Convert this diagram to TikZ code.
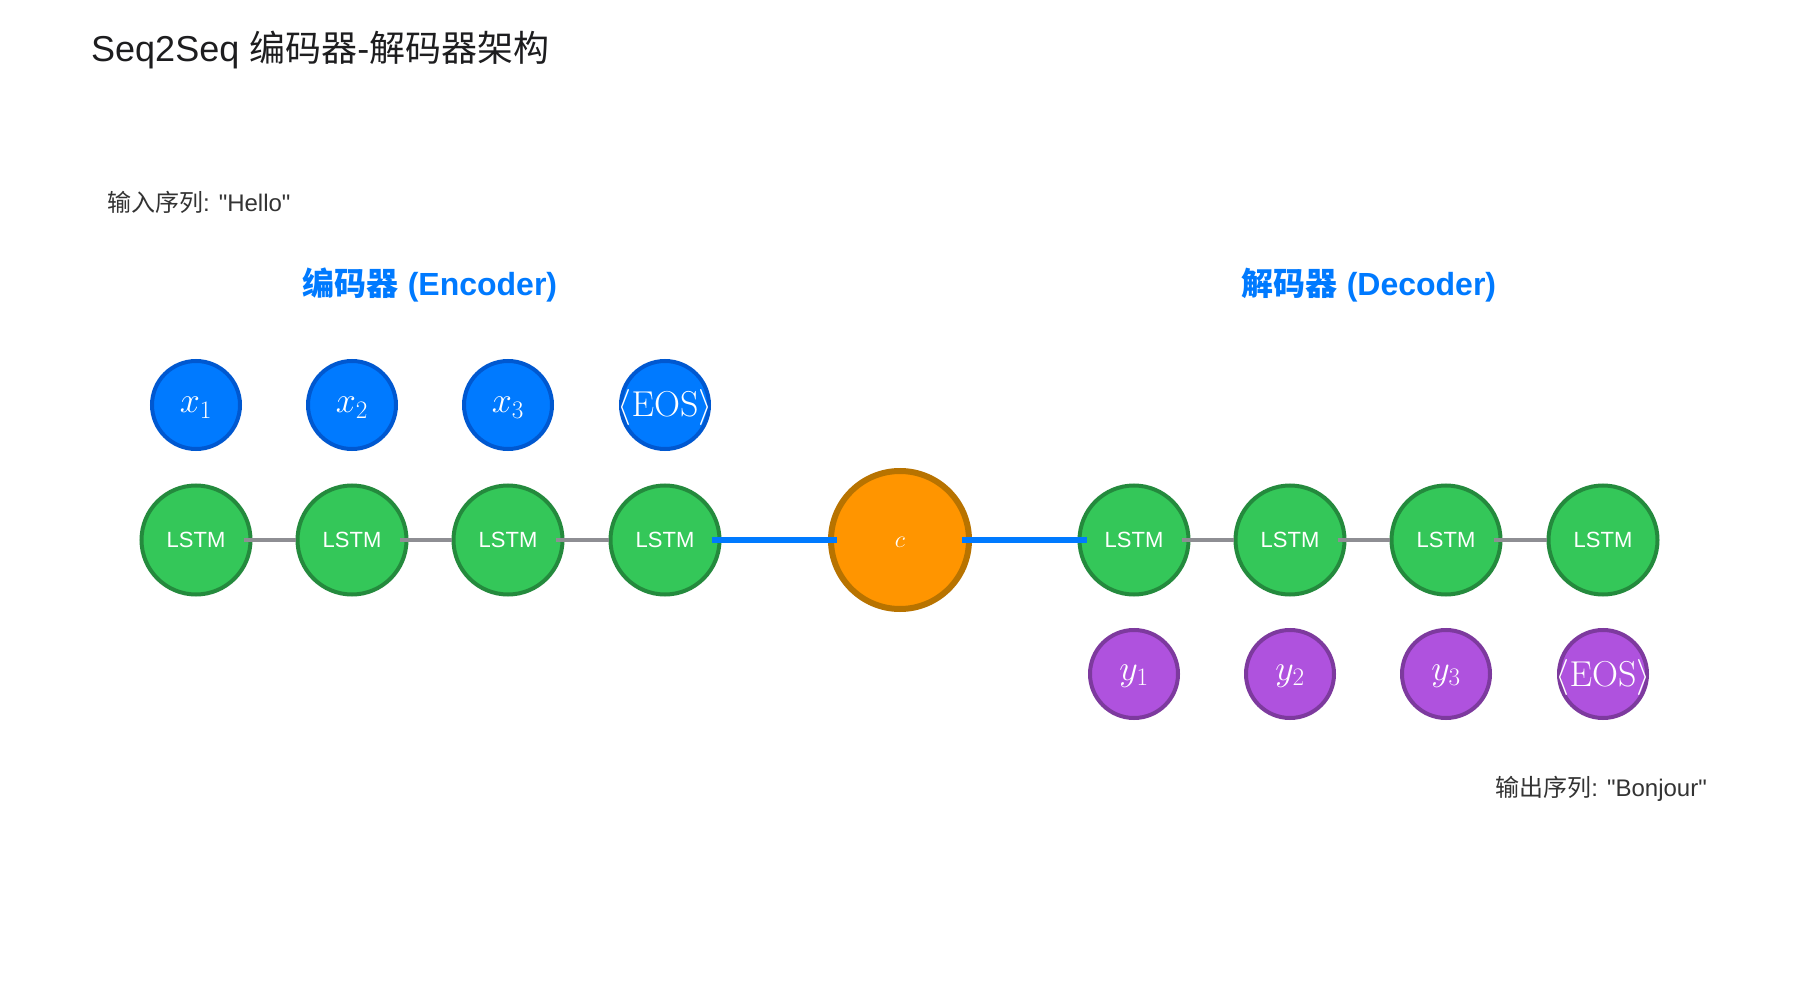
\documentclass[tikz,border=0pt]{standalone}
\usepackage{fix-cm}
\usepackage[no-math]{fontspec}
\setmainfont{Liberation Sans}
\newfontfamily\lsplain{Liberation Sans}
\newfontfamily\cjk{Noto Sans CJK SC}
\definecolor{lstmfill}{HTML}{34C759}
\definecolor{lstmdraw}{HTML}{248A3D}
\definecolor{infill}{HTML}{007AFF}
\definecolor{indraw}{HTML}{0058D0}
\definecolor{cfill}{HTML}{FF9500}
\definecolor{cdraw}{HTML}{B87300}
\definecolor{outfill}{HTML}{AF52DE}
\definecolor{outdraw}{HTML}{7D3A9E}
\definecolor{linkgray}{HTML}{8E8E93}
\definecolor{titlecol}{HTML}{1D1D1F}
\definecolor{labelcol}{HTML}{333333}
\newcommand{\dq}{{\lsplain"}}
\newcommand{\ml}[2]{\makebox[0pt]{\raisebox{#1}[0pt][0pt]{$#2$}}}
\begin{document}
\begin{tikzpicture}[x=1pt,y=-1pt,
  lstm/.style={circle,fill=lstmfill,draw=lstmdraw,line width=4pt,minimum size=109pt,inner sep=0pt,text=white,font=\fontsize{22}{26}\selectfont},
  tok/.style={circle,draw=indraw,fill=infill,line width=4pt,minimum size=88pt,inner sep=0pt,text=white,font=\fontsize{36}{42}\selectfont},
  outtok/.style={tok,draw=outdraw,fill=outfill},
  ctx/.style={circle,fill=cfill,draw=cdraw,line width=6pt,minimum size=138pt,inner sep=0pt,text=white,font=\fontsize{24}{28}\selectfont},
  glink/.style={draw=linkgray,line width=4pt},
  blink/.style={draw=infill,line width=6pt},
  head/.style={text=infill,font=\fontsize{32}{38}\selectfont\bfseries},
  note/.style={text=labelcol,font=\fontsize{24}{28}\selectfont}
]
\useasboundingbox[fill=white] (0,0) rectangle (1800,1000);

\node[anchor=west,text=titlecol,font=\fontsize{36}{42}\selectfont,inner sep=0pt] (title) at (91,50) {Seq2Seq {\cjk 编码器}-{\cjk 解码器架构}};
\node[note,anchor=west,inner sep=0pt] (inseq) at (107,202) {{\cjk 输入序列}: \dq Hello\dq};
\node[note,anchor=east,inner sep=0pt] (outseq) at (1707,789) {{\cjk 输出序列}: \dq Bonjour\dq};
\node[head] (enchead) at (430,285) {{\cjk\bfseries 编码器} (Encoder)};
\node[head] (dechead) at (1369,285) {{\cjk\bfseries 解码器} (Decoder)};

% encoder
\node[tok] (x1) at (196,405) {\ml{-8pt}{x_1}};
\node[tok] (x2) at (352,405) {\ml{-8pt}{x_2}};
\node[tok] (x3) at (508,405) {\ml{-8pt}{x_3}};
\node[tok] (x4) at (665,405) {\ml{-12pt}{\langle\mathrm{EOS}\rangle}};
\node[lstm] (e1) at (196,540) {LSTM};
\node[lstm] (e2) at (352,540) {LSTM};
\node[lstm] (e3) at (508,540) {LSTM};
\node[lstm] (e4) at (665,540) {LSTM};

\node[ctx] (c) at (900,540) {\ml{-7pt}{c}};

% decoder
\node[lstm] (d1) at (1134,540) {LSTM};
\node[lstm] (d2) at (1290,540) {LSTM};
\node[lstm] (d3) at (1446,540) {LSTM};
\node[lstm] (d4) at (1603,540) {LSTM};
\node[outtok] (y1) at (1134,674) {\ml{-6pt}{y_1}};
\node[outtok] (y2) at (1290,674) {\ml{-6pt}{y_2}};
\node[outtok] (y3) at (1446,674) {\ml{-6pt}{y_3}};
\node[outtok] (y4) at (1603,674) {\ml{-12pt}{\langle\mathrm{EOS}\rangle}};

\foreach \a/\b in {e1/e2,e2/e3,e3/e4,d1/d2,d2/d3,d3/d4}
  \draw[glink] ([xshift=-9pt]\a.east) -- (\b.west);
\draw[blink] ([xshift=-10pt]e4.east) -- ([xshift=9pt]c.west);
\draw[blink] ([xshift=-10pt]c.east) -- ([xshift=9pt]d1.west);
\end{tikzpicture}
\end{document}
